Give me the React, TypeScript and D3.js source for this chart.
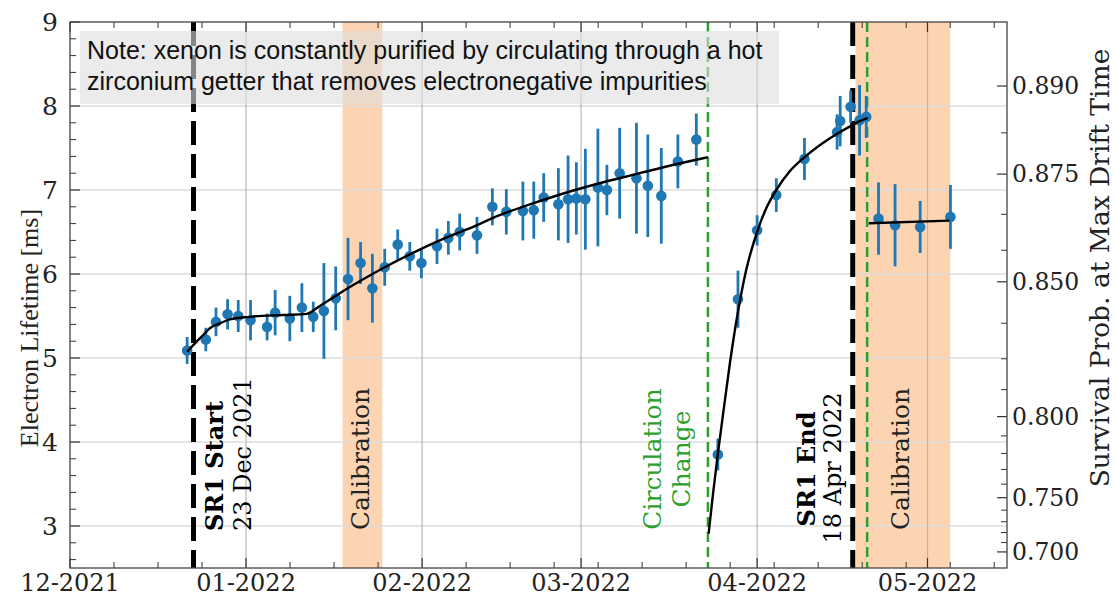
import React from "react";
import * as d3 from "d3";

// ---------- data ----------
const pointDates = [
  "2021-12-21T15:00", "2021-12-24T22:00", "2021-12-26T17:00", "2021-12-28T18:00", "2021-12-30T15:00",
  "2022-01-01T19:00", "2022-01-04T17:00", "2022-01-06T03:00", "2022-01-08T17:00", "2022-01-10T20:00",
  "2022-01-12T20:00", "2022-01-14T17:00", "2022-01-16T19:00", "2022-01-18T23:00", "2022-01-21T04:00",
  "2022-01-23T06:00", "2022-01-25T10:00", "2022-01-27T17:00", "2022-01-29T20:00", "2022-01-31T21:00",
  "2022-02-03T15:00", "2022-02-05T15:00", "2022-02-07T15:00", "2022-02-10T16:00", "2022-02-13T09:00",
  "2022-02-15T20:00", "2022-02-18T18:00", "2022-02-20T16:00", "2022-02-22T10:00", "2022-02-25T00:00",
  "2022-02-26T17:00", "2022-02-28T04:00", "2022-03-01T18:00", "2022-03-03T23:00", "2022-03-05T13:00",
  "2022-03-07T19:00", "2022-03-10T18:00", "2022-03-12T18:00", "2022-03-15T03:00", "2022-03-18T01:00",
  "2022-03-21T07:00", "2022-03-25T02:00", "2022-03-28T15:00", "2022-04-01T00:00", "2022-04-04T09:00",
  "2022-04-09T08:00", "2022-04-15T02:00", "2022-04-15T15:00", "2022-04-17T11:00", "2022-04-19T01:00",
  "2022-04-20T05:00", "2022-04-22T09:00", "2022-04-25T07:00", "2022-04-29T17:00", "2022-05-05T01:00",
];
const pointValues = [
  5.09, 5.22, 5.43, 5.52, 5.50, 5.45, 5.37, 5.54, 5.47, 5.60,
  5.49, 5.56, 5.71, 5.94, 6.13, 5.83, 6.08, 6.35, 6.21, 6.13,
  6.33, 6.43, 6.50, 6.46, 6.80, 6.74, 6.75, 6.76, 6.91, 6.83,
  6.89, 6.90, 6.89, 7.03, 7.00, 7.20, 7.14, 7.05, 6.93, 7.34,
  7.60, 3.85, 5.70, 6.52, 6.94, 7.37, 7.69, 7.82, 7.99, 7.83,
  7.87, 6.66, 6.58, 6.56, 6.68,
];
const pointErrors = [
  0.16, 0.14, 0.17, 0.18, 0.19, 0.24, 0.16, 0.27, 0.27, 0.29,
  0.18, 0.57, 0.38, 0.49, 0.25, 0.41, 0.22, 0.18, 0.17, 0.18,
  0.21, 0.20, 0.22, 0.22, 0.22, 0.27, 0.35, 0.34, 0.29, 0.43,
  0.52, 0.43, 0.60, 0.70, 0.30, 0.54, 0.66, 0.61, 0.57, 0.32,
  0.31, 0.19, 0.34, 0.18, 0.20, 0.25, 0.21, 0.30, 0.19, 0.42,
  0.25, 0.43, 0.49, 0.31, 0.38,
];

const fit1Dates = [
  "2021-12-21T15:00", "2021-12-23T00:00", "2021-12-24T11:00", "2021-12-25T15:00", "2021-12-27T10:00",
  "2021-12-29T04:00", "2022-01-01T16:00", "2022-01-07T13:00", "2022-01-11T16:00", "2022-01-14T00:00",
  "2022-01-19T19:00", "2022-01-25T06:00", "2022-01-31T14:00", "2022-02-05T21:00", "2022-02-08T21:00",
  "2022-02-14T16:00", "2022-02-20T12:00", "2022-02-26T11:00", "2022-03-04T06:00", "2022-03-10T02:00",
  "2022-03-16T01:00", "2022-03-23T08:00",
];
const fit1Values = [
  5.075, 5.175, 5.274, 5.354, 5.413, 5.46, 5.49, 5.512, 5.525, 5.62,
  5.865, 6.075, 6.29, 6.45, 6.53, 6.70, 6.84, 6.97, 7.08, 7.18,
  7.28, 7.39,
];
const fit2Dates = [
  "2022-03-23T11:00", "2022-03-24T05:00", "2022-03-25T02:00", "2022-03-25T23:00", "2022-03-27T04:00",
  "2022-03-28T15:00", "2022-03-30T02:00", "2022-04-01T00:00", "2022-04-02T14:00", "2022-04-04T09:00",
  "2022-04-06T17:00", "2022-04-09T08:00", "2022-04-12T14:00", "2022-04-15T02:00", "2022-04-17T11:00",
  "2022-04-19T01:00", "2022-04-20T12:00",
];
const fit2Values = [
  2.91, 3.37, 3.86, 4.31, 4.92, 5.55, 6.05, 6.50, 6.78, 7.00,
  7.22, 7.39, 7.56, 7.67, 7.76, 7.82, 7.86,
];
const fit3Dates = ["2022-04-20T16:00", "2022-05-04T21:00"];
const fit3Values = [6.604, 6.635];

const xDomain = ["2021-12-01", "2022-05-15"];
const monthTicks = ["2021-12-01", "2022-01-01", "2022-02-01", "2022-03-01", "2022-04-01", "2022-05-01"];
const monthLabels = ["12-2021", "01-2022", "02-2022", "03-2022", "04-2022", "05-2022"];
const lifetimeDomain = [2.5, 9];
const lifetimeTicks = [3, 4, 5, 6, 7, 8, 9];
const survivalTicks = [0.7, 0.75, 0.8, 0.85, 0.875, 0.89];
const survivalLabels = ["0.700", "0.750", "0.800", "0.850", "0.875", "0.890"];
const survivalMinorTicks = [0.71, 0.72, 0.73, 0.74, 0.76, 0.77, 0.78, 0.79, 0.8125, 0.825, 0.8375, 0.8583, 0.8667, 0.8825];
const maxDriftTimeMs = 0.96;

const calibrationStarts = ["2022-01-18T00:00", "2022-04-18T08:00"];
const calibrationEnds = ["2022-01-25T00:00", "2022-05-05T00:00"];
const srLineDates = ["2021-12-22T18:00", "2022-04-17T20:00"];
const circulationLineDates = ["2022-03-23T08:00", "2022-04-20T09:00"];

const noteLines = [
  "Note: xenon is constantly purified by circulating through a hot",
  "zirconium getter that removes electronegative impurities",
];

// ---------- component ----------
const parse = (s: string) => new Date(s + (s.length === 10 ? "T00:00Z" : "Z"));
const SERIF = "'DejaVu Serif', serif";
const TIMES = "'Liberation Serif', 'Times New Roman', serif";
const SANS = "'Liberation Sans', Arial, sans-serif";
const BLUE = "#1f77b4";
const GREEN = "#2ca02c";

export default function App() {
  const L = 70, R = 1007, T = 22, B = 568;
  const x = d3.scaleUtc().domain(xDomain.map(parse)).range([L, R]);
  const y = d3.scaleLinear().domain(lifetimeDomain).range([B, T]);
  const ySurv = (p: number) => y(-maxDriftTimeMs / Math.log(p));

  const majorX = monthTicks.map(parse);
  const minorStep = (+majorX[1] - +majorX[0]) / 4;
  const minorX: Date[] = [];
  for (let t = +majorX[0]; t <= +x.domain()[1]; t += minorStep) {
    if (!majorX.some((m) => Math.abs(+m - t) < 3600e3)) minorX.push(new Date(t));
  }
  const minorY = d3.range(26, 90, 2).map((v) => v / 10).filter((v) => Math.abs(v - Math.round(v)) > 1e-6);

  const line = d3
    .line<[Date, number]>()
    .x((d) => x(d[0]))
    .y((d) => y(d[1]))
    .curve(d3.curveMonotoneX);
  const fits = [
    [fit1Dates, fit1Values],
    [fit2Dates, fit2Values],
    [fit3Dates, fit3Values],
  ].map(([ds, vs]) => line((ds as string[]).map((d, i) => [parse(d), (vs as number[])[i]])) as string);

  const points = pointDates.map((d, i) => ({ x: x(parse(d)), v: pointValues[i], e: pointErrors[i] }));

  const srX = srLineDates.map((d) => x(parse(d)));
  const circX = circulationLineDates.map((d) => x(parse(d)));
  const bands = calibrationStarts.map((s, i) => ({ x0: x(parse(s)), x1: x(parse(calibrationEnds[i])) }));

  const rot = (px: number, py: number) => `translate(${px},${py}) rotate(-90)`;

  return (
    <svg width={1115} height={606} style={{ position: "absolute", left: 0, top: 0, background: "#fff" }}>
      <rect x={0} y={0} width={1115} height={606} fill="#fff" />
      {/* calibration bands */}
      {bands.map((b, i) => (
        <rect key={"b" + i} x={b.x0} y={T} width={b.x1 - b.x0} height={B - T} fill="#fdd4b1" />
      ))}
      {/* grid */}
      {lifetimeTicks.filter((v) => v < 9).map((v) => (
        <line key={"gy" + v} x1={L} x2={R} y1={y(v)} y2={y(v)} stroke="#dcdcdc" strokeWidth={1.3} />
      ))}
      {majorX.slice(1).map((d, i) => (
        <line key={"gx" + i} x1={x(d)} x2={x(d)} y1={T} y2={B} stroke="#b8b8b8" strokeWidth={1.2} />
      ))}
      {/* vertical marker lines */}
      {srX.map((px, i) => (
        <line key={"sr" + i} x1={px} x2={px} y1={T} y2={B} stroke="#000" strokeWidth={5} strokeDasharray="24 9" />
      ))}
      {circX.map((px, i) => (
        <line key={"cc" + i} x1={px} x2={px} y1={T} y2={B} stroke={GREEN} strokeWidth={2.5} strokeDasharray="10 5" />
      ))}
      {/* error bars + points */}
      {points.map((p, i) => (
        <g key={"p" + i}>
          <line x1={p.x} x2={p.x} y1={y(p.v - p.e)} y2={y(p.v + p.e)} stroke={BLUE} strokeWidth={2.8} />
          <circle cx={p.x} cy={y(p.v)} r={5.3} fill={BLUE} />
        </g>
      ))}
      {/* fits */}
      {fits.map((d, i) => (
        <path key={"f" + i} d={d} fill="none" stroke="#000" strokeWidth={2.4} />
      ))}
      {/* note box */}
      <rect x={80} y={31} width={699} height={73} fill="#dddddd" fillOpacity={0.6} />
      {noteLines.map((t, i) => (
        <text key={"n" + i} x={87} y={59 + i * 31} fontFamily={SANS} fontSize={25} fill="#111">
          {t}
        </text>
      ))}
      {/* annotations */}
      <text transform={rot(srX[0] + 21, 531)} fontFamily={SERIF} fontSize={24} fontWeight="bold" dominantBaseline="central">
        SR1 Start
      </text>
      <text transform={rot(srX[0] + 49, 531)} fontFamily={SERIF} fontSize={24} dominantBaseline="central">
        23 Dec 2021
      </text>
      {bands.map((b, i) => (
        <text key={"cal" + i} transform={rot((b.x0 + b.x1) / 2 - 2, 459)} fontFamily={SERIF} fontSize={25}
          textAnchor="middle" dominantBaseline="central" fill="#222">
          Calibration
        </text>
      ))}
      <text transform={rot(circX[0] - 55, 459)} fontFamily={SERIF} fontSize={25} textAnchor="middle"
        dominantBaseline="central" fill={GREEN}>
        Circulation
      </text>
      <text transform={rot(circX[0] - 26, 459)} fontFamily={SERIF} fontSize={25} textAnchor="middle"
        dominantBaseline="central" fill={GREEN}>
        Change
      </text>
      <text transform={rot(srX[1] - 46, 469)} fontFamily={SERIF} fontSize={24} fontWeight="bold" textAnchor="middle"
        dominantBaseline="central">
        SR1 End
      </text>
      <text transform={rot(srX[1] - 20, 468)} fontFamily={SERIF} fontSize={24} textAnchor="middle"
        dominantBaseline="central">
        18 Apr 2022
      </text>
      {/* ticks */}
      {majorX.map((d, i) => (
        <g key={"tx" + i}>
          <line x1={x(d)} x2={x(d)} y1={B} y2={B - 10} stroke="#333" strokeWidth={1.2} />
          <line x1={x(d)} x2={x(d)} y1={T} y2={T + 10} stroke="#333" strokeWidth={1.2} />
          <text x={x(d)} y={591} textAnchor="middle" fontFamily={SERIF} fontSize={24} fill="#222">
            {monthLabels[i]}
          </text>
        </g>
      ))}
      {minorX.map((d, i) => (
        <g key={"mx" + i}>
          <line x1={x(d)} x2={x(d)} y1={B} y2={B - 6} stroke="#333" strokeWidth={1} />
          <line x1={x(d)} x2={x(d)} y1={T} y2={T + 6} stroke="#333" strokeWidth={1} />
        </g>
      ))}
      {lifetimeTicks.map((v) => (
        <g key={"ty" + v}>
          <line x1={L} x2={L + 10} y1={y(v)} y2={y(v)} stroke="#333" strokeWidth={1.2} />
          <text x={58} y={y(v)} textAnchor="end" dominantBaseline="central" fontFamily={SERIF} fontSize={25} fill="#222">
            {v}
          </text>
        </g>
      ))}
      {minorY.map((v) => (
        <line key={"my" + v} x1={L} x2={L + 6} y1={y(v)} y2={y(v)} stroke="#333" strokeWidth={1} />
      ))}
      {survivalTicks.map((p, i) => (
        <g key={"ts" + i}>
          <line x1={R} x2={R - 10} y1={ySurv(p)} y2={ySurv(p)} stroke="#333" strokeWidth={1.2} />
          <text x={1012} y={ySurv(p)} dominantBaseline="central" fontFamily={SERIF} fontSize={23.5} fill="#222">
            {survivalLabels[i]}
          </text>
        </g>
      ))}
      {survivalMinorTicks.map((p, i) => (
        <line key={"ms" + i} x1={R} x2={R - 6} y1={ySurv(p)} y2={ySurv(p)} stroke="#333" strokeWidth={1} />
      ))}
      {/* frame */}
      <rect x={L} y={T} width={R - L} height={B - T} fill="none" stroke="#444" strokeWidth={1.3} />
      {/* axis labels */}
      <text transform={rot(29, 328)} textAnchor="middle" dominantBaseline="central" fontFamily={TIMES} fontSize={26} fill="#222">
        Electron Lifetime  [ms]
      </text>
      <text transform={rot(1099, 268)} textAnchor="middle" dominantBaseline="central" fontFamily={SERIF} fontSize={26.5} fill="#222">
        Survival Prob. at Max Drift Time
      </text>
    </svg>
  );
}
